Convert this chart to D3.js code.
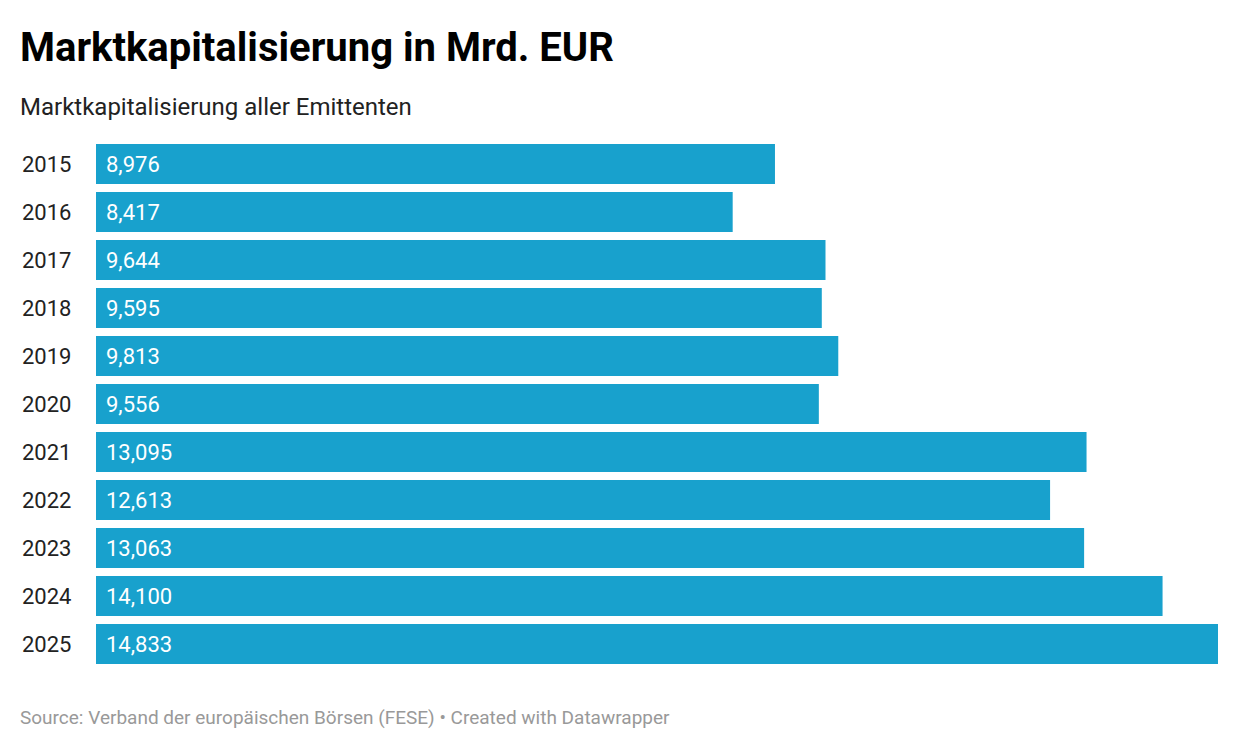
<!DOCTYPE html>
<html><head><meta charset="utf-8">
<script src="https://cdn.jsdelivr.net/npm/d3@7"></script>
<style>body{margin:0;background:#fff;font-family:Roboto,sans-serif}</style>
</head><body><svg id="c" width="1240" height="750"></svg>
<script>
const years = ["2015","2016","2017","2018","2019","2020","2021","2022","2023","2024","2025"];
const values = [8976,8417,9644,9595,9813,9556,13095,12613,13063,14100,14833];
const title = "Marktkapitalisierung in Mrd. EUR";
const subtitle = "Marktkapitalisierung aller Emittenten";
const source = "Source: Verband der europäischen Börsen (FESE) • Created with Datawrapper";

const svg = d3.select("#c");
svg.append("text").attr("x",20).attr("y",61).attr("font-size",40).attr("font-weight",700).attr("fill","#000").text(title);
svg.append("text").attr("x",20).attr("y",115).attr("font-size",24).attr("fill","#222").text(subtitle);

const x = d3.scaleLinear().domain([0,14833]).range([96,1218]);
const y = d3.scaleBand().domain(years).range([140,668]).paddingInner(1/6).paddingOuter(1/12);
const fmt = d3.format(",");

const g = svg.append("g");
g.selectAll("rect").data(years).join("rect")
 .attr("x",x(0)).attr("y",d=>y(d)).attr("height",y.bandwidth())
 .attr("width",(d,i)=>x(values[i])-x(0)).attr("fill","#18a1cd");
g.selectAll("text.yr").data(years).join("text").attr("class","yr")
 .attr("x",22).attr("y",d=>y(d)+y.bandwidth()/2).attr("dy","0.35em")
 .attr("font-size",22).attr("fill","#222").text(d=>d);
g.selectAll("text.val").data(years).join("text").attr("class","val")
 .attr("x",x(0)+10).attr("y",d=>y(d)+y.bandwidth()/2).attr("dy","0.35em")
 .attr("font-size",22).attr("fill","#fff").text((d,i)=>fmt(values[i]));

svg.append("text").attr("x",20).attr("y",724).attr("font-size",19).attr("fill","#999").text(source);
</script></body></html>
